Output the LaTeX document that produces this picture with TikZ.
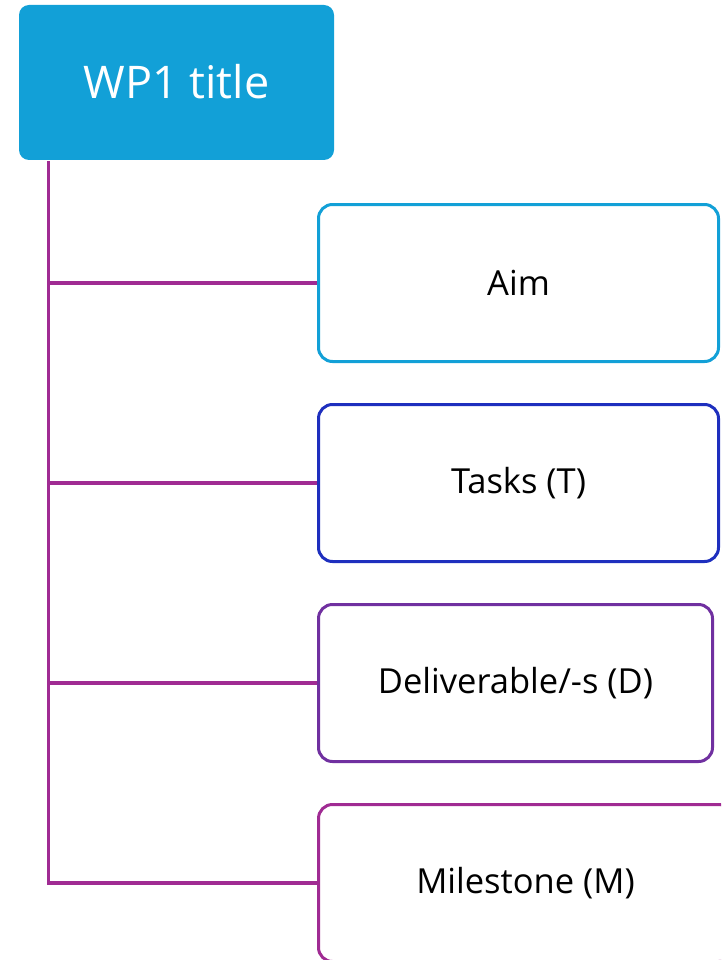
\documentclass[tikz,border=0pt]{standalone}
\usepackage{fontspec}
\setmainfont{Open Sans}
\definecolor{titleblue}{HTML}{12A0D7}
\definecolor{taskblue}{HTML}{1E2FBE}
\definecolor{delpurple}{HTML}{7030A0}
\definecolor{linemag}{HTML}{A02B93}
\begin{document}
\begin{tikzpicture}[x=1pt,y=-1pt,
  itembox/.style={draw, line width=3pt, rounded corners=14pt, fill=white,
    minimum width=400pt, minimum height=157pt, inner sep=0pt,
    font=\fontsize{34.5}{40}\selectfont, text=black},
  conn/.style={draw=linemag, line width=3.5pt}]
\useasboundingbox (0,0) rectangle (721,960);
\clip (0,0) rectangle (721,960);
\node[fill=titleblue, rounded corners=10pt, minimum width=315pt, minimum height=155pt,
  inner sep=0pt, text=white, font=\fontsize{45}{52}\selectfont] (title) at (176.5,82.5) {\raisebox{2pt}{WP1 title}};
\node[itembox, draw=titleblue] (aim) at (518.5,283) {Aim};
\node[itembox, draw=taskblue] (tasks) at (518.5,483) {Tasks (T)};
\node[itembox, draw=delpurple, minimum width=394pt] (deliv) at (515.5,683) {Deliverable/-s (D)};
\node[itembox, draw=linemag, minimum width=414pt] (mile) at (525.5,883) {Milestone (M)};
\coordinate (top) at (48.5,161);
\draw[conn] (top) |- (mile.west);
\draw[conn] (aim.west -| top) -- (aim.west);
\draw[conn] (tasks.west -| top) -- (tasks.west);
\draw[conn] (deliv.west -| top) -- (deliv.west);
\end{tikzpicture}
\end{document}
